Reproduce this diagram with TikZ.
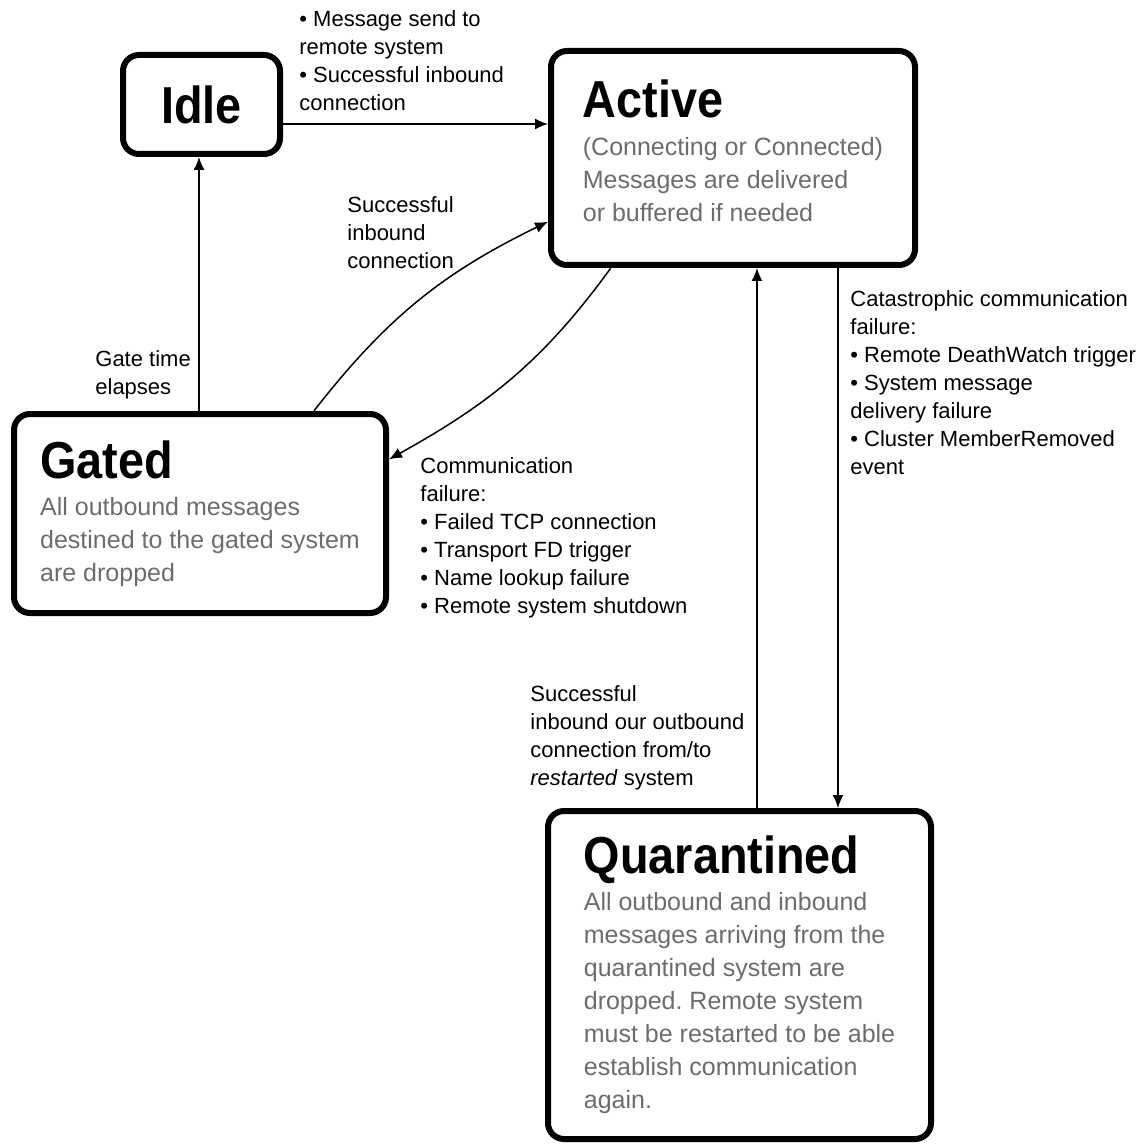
\documentclass[tikz,border=0pt]{standalone}
\usepackage{fontspec}
\setmainfont{Liberation Sans}
\newfontfamily\titlefont[FakeStretch=0.9]{Liberation Sans}
\usetikzlibrary{arrows.meta}
\definecolor{boxgray}{RGB}{108,108,108}
\newcommand{\statetitle}[1]{{\color{black}\titlefont\bfseries\fontsize{26}{28}\selectfont #1}}
\tikzset{
	statebox/.style={draw, rectangle, line width=3pt, rounded corners=8pt, align=left, text=boxgray, font=\fontsize{12.5}{16.5}\selectfont},
	trans/.style={->, line width=0.75pt},
	lbl/.style={anchor=north west, inner sep=0pt, align=left, font=\fontsize{11}{14}\selectfont},
}
\frenchspacing
\begin{document}
\begin{tikzpicture}[x=0.5pt, y=0.5pt, >={Latex[length=6.5pt,width=5.5pt]}]
					\useasboundingbox (0,0) rectangle (1145,-1144);
					\node[statebox, minimum width=78.5pt, minimum height=49.5pt] (idle) at (201.5,-104.5) {\statetitle{Idle}};
					\node[statebox, minimum width=182pt, minimum height=107pt, text depth=7pt] (active) at (733,-158) {\statetitle{Active}\\[2.5pt](Connecting or Connected)\\Messages are delivered\\or buffered if needed};
					\node[statebox, minimum width=186pt, minimum height=99.5pt] (gated) at (200,-513.5) {\statetitle{Gated}\\[2pt]All outbound messages\\destined to the gated system\\are dropped};
					\node[statebox, minimum width=191.5pt, minimum height=164pt] (quar) at (739.5,-975) {\statetitle{Quarantined}\\[2pt]All outbound and inbound\\messages arriving from the\\quarantined system are\\dropped. Remote system\\must be restarted to be able\\establish communication\\again.};
					\node[lbl] (sendlbl) at (299,-10) {\textbullet{} Message send to\\remote system\\\textbullet{} Successful inbound\\connection};
					\node[lbl] (inboundlbl) at (347,-196) {Successful\\inbound\\connection};
					\node[lbl] (gatelbl) at (95,-350) {Gate time\\elapses};
					\node[lbl] (faillbl) at (420,-457) {Communication\\failure:\\\textbullet{} Failed TCP connection\\\textbullet{} Transport FD trigger\\\textbullet{} Name lookup failure\\\textbullet{} Remote system shutdown};
					\node[lbl] (catlbl) at (850,-290) {Catastrophic communication\\failure:\\\textbullet{} Remote DeathWatch trigger\\\textbullet{} System message\\delivery failure\\\textbullet{} Cluster MemberRemoved\\event};
					\node[lbl] (restartlbl) at (530,-685) {Successful\\inbound our outbound\\connection from/to\\\textit{restarted} system};
					\draw[trans] (idle.east |- 0,-124) -- (active.west |- 0,-124);
					\draw[trans] (gated.north -| 199,0) -- (idle.south -| 199,0);
					\draw[trans] (gated.42) to[out=52, in=206] (active.199);
					\draw[trans] (active.222) to[out=234, in=29] (gated.16);
					\draw[trans] (quar.north -| 757,0) -- (active.south -| 757,0);
					\draw[trans] (active.south -| 838,0) -- (quar.north -| 838,0);
				\end{tikzpicture}
\end{document}
